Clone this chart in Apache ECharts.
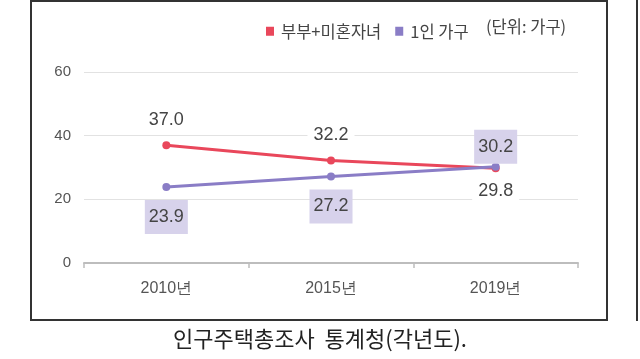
<!DOCTYPE html>
<html><head><meta charset="utf-8">
<script src="https://cdn.jsdelivr.net/npm/echarts@6/dist/echarts.min.js"></script>
<style>html,body{margin:0;padding:0;background:#fff;}#c{width:640px;height:359px;}</style>
</head><body><div id="c"></div>
<script>
const categories = ['2010년', '2015년', '2019년'];
const coupleKids = [37.0, 32.2, 29.8];
const singleHousehold = [23.9, 27.2, 30.2];
const yTicks = [0, 20, 40, 60];
const seriesNames = ['부부+미혼자녀', '1인 가구'];
const unitText = '(단위: 가구)';
const caption = '인구주택총조사  통계청(각년도).';

const numFont = "'Liberation Sans',Arial,sans-serif";
const krFont = "'Noto Sans CJK KR','Noto Sans',sans-serif";
const RED = '#E9475B', PURPLE = '#8A7DC6', BOX = '#D7D2EB';

const chart = echarts.init(document.getElementById('c'));
chart.setOption({
  animation: false,
  grid: {left: 84, right: 62, top: 72, bottom: 96},
  legend: {
    left: 261, top: 18, itemWidth: 8, itemHeight: 9, itemGap: 14, icon: 'rect',
    textStyle: {fontFamily: krFont, fontSize: 16.5, color: '#444', padding: [0, 0, 0, 2]},
    data: seriesNames
  },
  xAxis: {
    type: 'category', data: categories, boundaryGap: true,
    axisLine: {lineStyle: {color: '#bdbdbd', width: 2}},
    axisTick: {show: true, length: 5, lineStyle: {color: '#bdbdbd', width: 1.5}},
    axisLabel: {margin: 18, fontSize: 16, color: '#555', fontFamily: numFont}
  },
  yAxis: {
    type: 'value', min: yTicks[0], max: yTicks[yTicks.length-1], interval: 20,
    axisLine: {show: false}, axisTick: {show: false},
    axisLabel: {margin: 13, fontSize: 15, color: '#555', fontFamily: numFont},
    splitLine: {lineStyle: {color: '#e2e2e2', width: 1}}
  },
  series: [
    {
      name: seriesNames[0], type: 'line', data: coupleKids.map((v, i) => ({
        value: v,
        label: i === 2 ? {position: 'bottom', distance: 8} : {position: 'top', distance: 10}
      })),
      color: RED, lineStyle: {width: 3, color: RED}, symbol: 'circle', symbolSize: 8,
      itemStyle: {color: RED},
      label: {show: true, formatter: p => p.value.toFixed(1), fontSize: 18, color: '#444',
        fontFamily: numFont, backgroundColor: '#fff', padding: [2, 6]},
      z: 3
    },
    {
      name: seriesNames[1], type: 'line', data: singleHousehold.map((v, i) => ({
        value: v,
        label: i === 2 ? {position: 'top', distance: -1} : {position: 'bottom', distance: 9}
      })),
      color: PURPLE, lineStyle: {width: 3, color: PURPLE}, symbol: 'circle', symbolSize: 8,
      itemStyle: {color: PURPLE},
      label: {show: true, formatter: p => p.value.toFixed(1), fontSize: 18, color: '#444',
        fontFamily: numFont, backgroundColor: BOX, padding: [8, 4, 8, 4]},
      z: 4
    }
  ],
  graphic: [
    {type: 'rect', shape: {x: 31, y: 1, width: 576, height: 319},
      style: {fill: 'none', stroke: '#333', lineWidth: 2}, silent: true, z: 0},
    {type: 'line', shape: {x1: 637, y1: 0, x2: 637, y2: 321},
      style: {stroke: '#333', lineWidth: 2}, silent: true},
    {type: 'text', left: 486, top: 18,
      style: {text: unitText, font: '16.5px ' + krFont, fill: '#444'}},
    {type: 'text', left: 'center', top: 328,
      style: {text: caption, font: '22px ' + krFont, fill: '#222'}}
  ]
});
</script></body></html>
